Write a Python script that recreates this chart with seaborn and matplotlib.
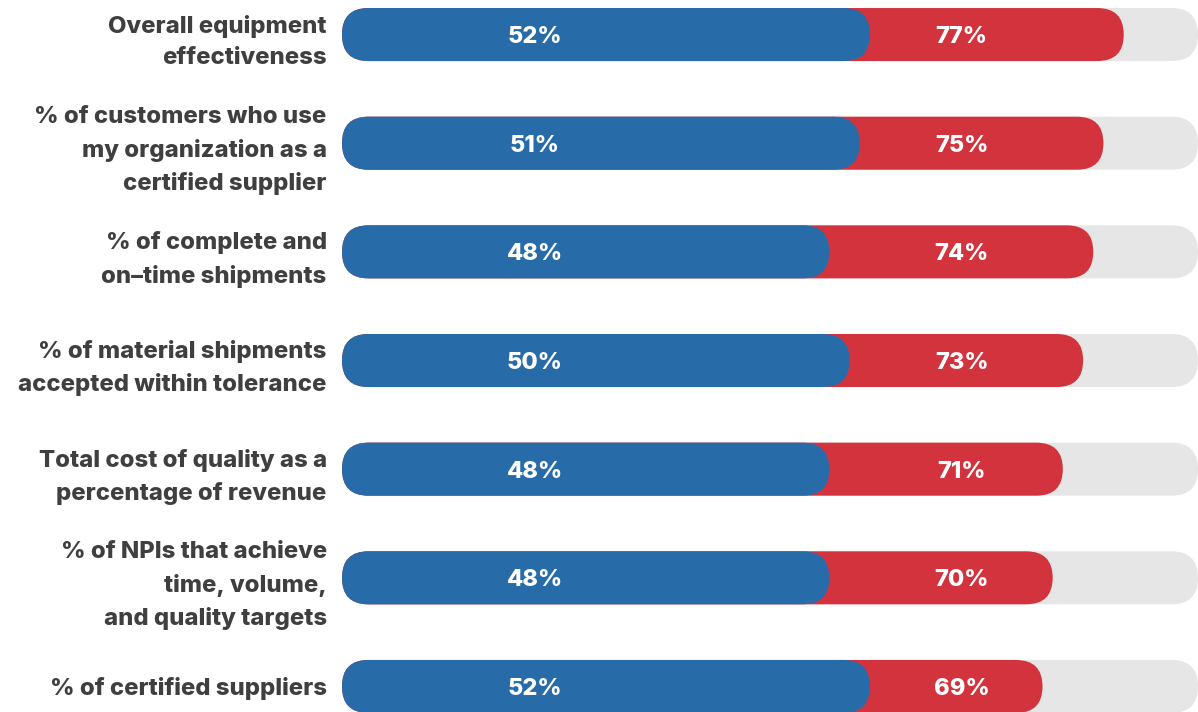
#!/usr/bin/env python3
"""Rounded progress-style bars: blue vs red share per quality metric."""

import pandas as pd
import seaborn as sns
import matplotlib

matplotlib.use("Agg", force=True)
import matplotlib.pyplot as plt
from matplotlib.patches import FancyBboxPatch
from matplotlib.transforms import blended_transform_factory

metrics = [
    "Overall equipment\neffectiveness",
    "% of customers who use\nmy organization as a\ncertified supplier",
    "% of complete and\non\u2013time shipments",
    "% of material shipments\naccepted within tolerance",
    "Total cost of quality as a\npercentage of revenue",
    "% of NPIs that achieve\ntime, volume,\nand quality targets",
    "% of certified suppliers",
]
blue_pct = [52, 51, 48, 50, 48, 48, 52]
red_pct = [77, 75, 74, 73, 71, 70, 69]

BLUE = "#276ba8"
RED = "#d3333d"
TRACK = "#e5e6e5"
TEXT = "#3f3f3f"

sns.set_theme(style="white")
plt.rcParams["font.family"] = ["Inter", "DejaVu Sans"]

# grey track runs a little past the largest value
xmax = max(red_pct) * 1.095
df = pd.DataFrame({
    "metric": metrics,
    "blue": blue_pct,
    "red": red_pct,
    "track": [xmax] * len(metrics),
})

fig = plt.figure(figsize=(11.98, 7.12), dpi=100)
ax = fig.add_axes([342 / 1198, 0, 856 / 1198, 1])

bar_w = 0.488
for col, c in [("track", TRACK), ("red", RED), ("blue", BLUE)]:
    sns.barplot(data=df, x=col, y="metric", color=c, width=bar_w, saturation=1,
                errorbar=None, orient="h", linewidth=0, ax=ax)

ax.set_xlim(0, xmax)
ax.set_ylim(len(metrics) - 1 + 0.235, -0.318)

# swap the square bars for pill shapes
(x0p, y0p), (x1p, y1p) = ax.transData.transform([(0, 0), (1, 1)])
px_x, px_y = abs(x1p - x0p), abs(y1p - y0p)
for p in list(ax.patches):
    x, y = p.get_xy()
    w, h = p.get_width(), p.get_height()
    ry = abs(h) / 2
    rx = ry * px_y / px_x
    pill = FancyBboxPatch((x, y), w, h, boxstyle=f"round,pad=0,rounding_size={rx}",
                          mutation_aspect=ry / rx, facecolor=p.get_facecolor(),
                          edgecolor="none", zorder=p.get_zorder())
    p.remove()
    ax.add_patch(pill)

trans = blended_transform_factory(ax.transAxes, ax.transData)
for i, (b, r) in enumerate(zip(blue_pct, red_pct)):
    ax.text(0.2255, i, f"{b}%", transform=trans, ha="center", va="center_baseline",
            color="white", fontsize=17, fontweight="heavy", zorder=5)
    ax.text(0.724, i, f"{r}%", transform=trans, ha="center", va="center_baseline",
            color="white", fontsize=17, fontweight="heavy", zorder=5)

ax.set(xlabel="", ylabel="", xticks=[])
ax.tick_params(axis="y", length=0, pad=11)
for lbl in ax.get_yticklabels():
    lbl.set_fontsize(17.2)
    lbl.set_fontweight("heavy")
    lbl.set_color(TEXT)
    lbl.set_linespacing(1.58)
sns.despine(left=True, bottom=True)

fig.savefig("out.png", dpi=100)
